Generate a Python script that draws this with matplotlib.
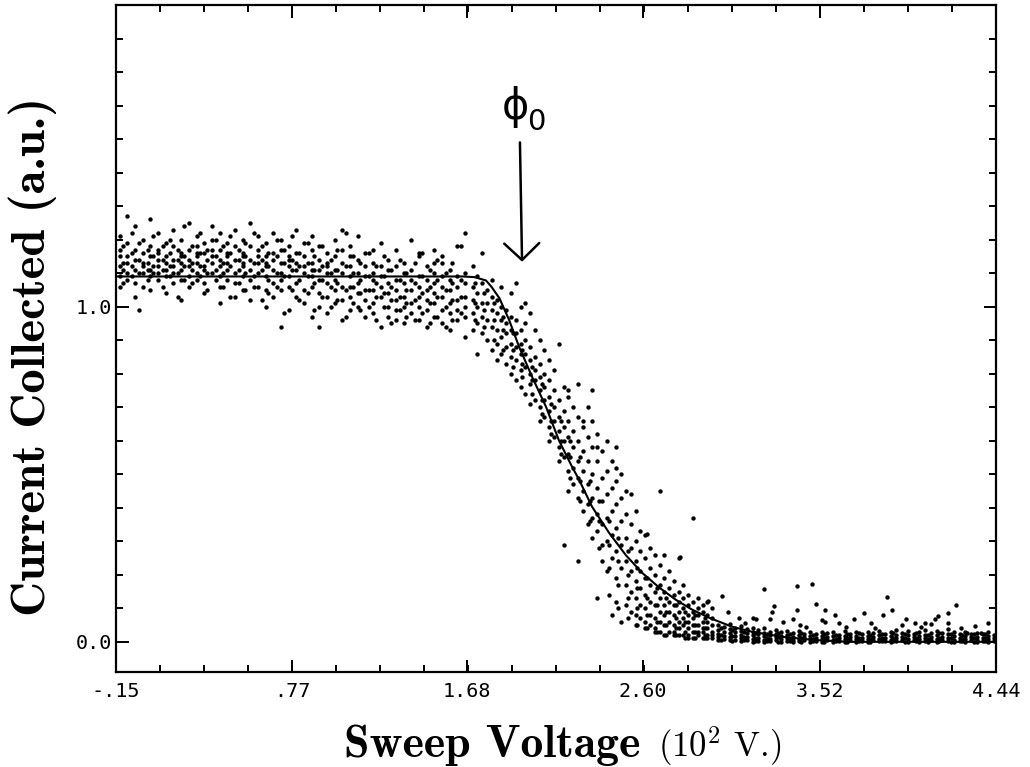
import numpy as np
import matplotlib
matplotlib.use("Agg")
from matplotlib import pyplot as plt

plt.rcParams['mathtext.fontset'] = 'cm'

# Fitted curve
fit_x = [-0.15, 1.66, 1.72, 1.78, 1.81, 1.85, 1.90, 1.952, 2.02, 2.093, 2.161,
         2.229, 2.265, 2.333, 2.422, 2.51, 2.594, 2.683, 2.771, 2.855, 2.943,
         3.063, 3.168, 3.324, 3.50, 3.674, 4.44]
fit_y = [1.09, 1.09, 1.088, 1.078, 1.058, 1.025, 0.961, 0.881, 0.791, 0.701, 0.600,
         0.522, 0.484, 0.403, 0.325, 0.258, 0.206, 0.162, 0.125, 0.096, 0.072,
         0.045, 0.030, 0.015, 0.005, 0.0, 0.0]

# Measured points, grouped by sweep column: plateau
plateau_cols = [-0.13, -0.09, -0.05, -0.01, 0.03, 0.07, 0.11, 0.15, 0.19, 0.23,
                0.27, 0.31, 0.35, 0.39, 0.43, 0.47, 0.51, 0.55, 0.59, 0.63,
                0.67, 0.71, 0.75, 0.79, 0.83, 0.87, 0.91, 0.95, 0.99, 1.03,
                1.07, 1.11, 1.15, 1.19, 1.23, 1.27, 1.31, 1.35, 1.39, 1.43,
                1.47, 1.51, 1.55, 1.59, 1.63, 1.67]
plateau_vals = [
    [1.21, 1.15, 1.12, 1.09, 1.06, 1.17],
    [1.27, 1.19, 1.13, 1.10, 1.08, 1.15],
    [1.24, 1.17, 1.14, 1.11, 1.07, 1.03],
    [1.20, 1.16, 1.12, 1.10, 1.13, 1.06],
    [1.26, 1.18, 1.15, 1.11, 1.09, 1.05],
    [1.22, 1.17, 1.14, 1.12, 1.08, 1.16, 1.10],
    [1.19, 1.15, 1.13, 1.09, 1.04, 1.11],
    [1.23, 1.18, 1.14, 1.12, 1.10, 1.07],
    [1.20, 1.16, 1.13, 1.11, 1.08, 1.15, 1.02],
    [1.25, 1.17, 1.14, 1.12, 1.09, 1.06],
    [1.21, 1.18, 1.15, 1.13, 1.10, 1.08, 1.16],
    [1.19, 1.16, 1.12, 1.11, 1.07, 1.04],
    [1.24, 1.20, 1.15, 1.13, 1.10, 1.17],
    [1.22, 1.17, 1.14, 1.12, 1.09, 1.06, 1.01],
    [1.19, 1.16, 1.13, 1.11, 1.08, 1.15],
    [1.23, 1.18, 1.14, 1.10, 1.07, 1.03],
    [1.20, 1.16, 1.13, 1.12, 1.09, 1.15, 1.05],
    [1.25, 1.18, 1.14, 1.11, 1.08, 1.02],
    [1.21, 1.17, 1.13, 1.10, 1.06, 1.15],
    [1.19, 1.15, 1.12, 1.09, 1.05, 1.00, 1.13],
    [1.22, 1.16, 1.14, 1.11, 1.07, 1.03],
    [1.20, 1.17, 1.13, 1.10, 1.08, 1.05, 0.94],
    [1.18, 1.15, 1.12, 1.09, 1.06, 0.99, 1.14],
    [1.23, 1.16, 1.13, 1.11, 1.07, 1.03],
    [1.19, 1.15, 1.12, 1.10, 1.05, 1.01],
    [1.21, 1.17, 1.13, 1.09, 1.06, 0.97, 1.11],
    [1.18, 1.14, 1.11, 1.08, 1.04, 1.00, 0.94],
    [1.16, 1.13, 1.10, 1.07, 1.03, 0.98, 1.12],
    [1.20, 1.15, 1.11, 1.08, 1.05, 1.01],
    [1.17, 1.13, 1.10, 1.06, 1.02, 0.96, 1.23],
    [1.15, 1.12, 1.09, 1.06, 1.03, 0.99, 1.18],
    [1.21, 1.14, 1.10, 1.07, 1.04, 1.00],
    [1.16, 1.12, 1.09, 1.05, 1.02, 0.97],
    [1.13, 1.10, 1.08, 1.05, 1.01, 0.98, 1.17],
    [1.19, 1.12, 1.09, 1.06, 1.03, 0.94],
    [1.14, 1.11, 1.07, 1.04, 1.00, 0.97],
    [1.17, 1.12, 1.08, 1.05, 1.02, 0.99, 0.96],
    [1.13, 1.10, 1.07, 1.03, 1.00, 0.95],
    [1.20, 1.11, 1.08, 1.05, 1.01, 0.98],
    [1.15, 1.09, 1.06, 1.03, 1.00, 0.96, 1.16],
    [1.12, 1.08, 1.05, 1.02, 0.99, 0.94],
    [1.17, 1.10, 1.07, 1.04, 1.01, 0.97, 1.13],
    [1.13, 1.09, 1.06, 1.03, 0.99, 0.95, 1.15],
    [1.11, 1.08, 1.05, 1.01, 0.98, 0.93],
    [1.18, 1.09, 1.06, 1.02, 0.99, 0.96],
    [1.22, 1.10, 1.07, 1.03, 1.00, 0.97, 0.91],
]

# plateau, in-between sweep columns
plateau2_cols = [-0.115, -0.065, -0.03, 0.015, 0.045, 0.095, 0.13, 0.175, 0.205,
                 0.245, 0.29, 0.325, 0.37, 0.41, 0.445, 0.49, 0.525, 0.57, 0.61,
                 0.645, 0.69, 0.725, 0.77, 0.805, 0.85, 0.885, 0.925, 0.97, 1.005,
                 1.05, 1.085, 1.125, 1.17, 1.205, 1.25, 1.285, 1.33, 1.365, 1.41,
                 1.445, 1.49, 1.525, 1.57, 1.605, 1.65]
plateau2_vals = [
    [1.18, 1.13, 1.11, 1.07], [1.22, 1.16, 1.12, 1.09], [1.19, 1.14, 1.10, 0.99],
    [1.17, 1.13, 1.11, 1.08], [1.21, 1.15, 1.12, 1.10], [1.18, 1.14, 1.11, 1.06],
    [1.20, 1.16, 1.12, 1.09], [1.17, 1.14, 1.10, 1.03], [1.24, 1.15, 1.12, 1.08],
    [1.18, 1.13, 1.11, 1.07], [1.22, 1.16, 1.12, 1.09], [1.17, 1.14, 1.10, 1.05],
    [1.20, 1.15, 1.11, 1.08], [1.18, 1.13, 1.10, 1.06], [1.21, 1.16, 1.12, 1.03],
    [1.17, 1.14, 1.11, 1.07], [1.19, 1.15, 1.10, 1.05], [1.22, 1.13, 1.09, 1.06],
    [1.18, 1.14, 1.11, 1.02], [1.16, 1.12, 1.08, 1.04], [1.20, 1.15, 1.10, 1.06],
    [1.17, 1.13, 1.09, 0.98], [1.21, 1.14, 1.11, 1.05], [1.16, 1.12, 1.08, 1.02],
    [1.19, 1.13, 1.09, 1.04], [1.15, 1.11, 1.07, 0.99], [1.18, 1.12, 1.08, 1.03],
    [1.14, 1.10, 1.06, 1.00], [1.17, 1.11, 1.07, 1.02], [1.22, 1.12, 1.05, 0.97],
    [1.15, 1.10, 1.06, 1.01], [1.13, 1.08, 1.04, 0.99], [1.16, 1.09, 1.05, 1.00],
    [1.12, 1.07, 1.03, 0.96], [1.15, 1.09, 1.04, 1.00], [1.11, 1.06, 1.02, 0.95],
    [1.14, 1.08, 1.03, 0.99], [1.10, 1.05, 1.01, 0.97], [1.13, 1.07, 1.02, 0.96],
    [1.16, 1.09, 1.04, 0.98], [1.11, 1.06, 1.01, 0.95], [1.14, 1.08, 1.03, 0.97],
    [1.10, 1.05, 1.00, 0.94], [1.13, 1.07, 1.02, 0.96], [1.18, 1.08, 1.03, 0.98],
]

# drop region
drop_cols = [1.71, 1.735, 1.76, 1.785, 1.81, 1.835, 1.86, 1.885, 1.91, 1.935,
             1.96, 1.985, 2.01, 2.035, 2.06, 2.085, 2.11, 2.135, 2.16, 2.185,
             2.21, 2.235, 2.26, 2.285, 2.31, 2.335, 2.36, 2.385, 2.41, 2.435,
             2.46, 2.485, 2.51, 2.535, 2.56, 2.585, 2.61, 2.635, 2.66, 2.685,
             2.71, 2.735, 2.76, 2.785, 2.81, 2.835, 2.86, 2.885, 2.91, 2.935, 2.96]
drop_vals = [
    [1.12, 1.06, 1.02, 0.98, 0.93],
    [1.09, 1.04, 1.00, 0.95, 0.86],
    [1.16, 1.07, 1.01, 0.97, 0.92],
    [1.05, 1.01, 0.96, 0.90],
    [1.08, 1.03, 0.99, 0.94, 0.87],
    [1.02, 0.98, 0.93, 0.89, 0.84],
    [1.06, 1.00, 0.96, 0.91, 0.86],
    [0.99, 0.95, 0.92, 0.88, 0.83],
    [1.04, 0.97, 0.93, 0.89, 0.85, 0.80],
    [1.07, 0.96, 0.92, 0.88, 0.84, 0.78],
    [1.00, 0.93, 0.89, 0.86, 0.81, 0.76],
    [1.01, 0.95, 0.90, 0.86, 0.82, 0.74],
    [0.98, 0.88, 0.84, 0.80, 0.77, 0.71],
    [0.93, 0.85, 0.81, 0.78, 0.72],
    [0.90, 0.83, 0.79, 0.75, 0.70, 0.66],
    [0.87, 0.80, 0.76, 0.72, 0.67],
    [0.84, 0.78, 0.73, 0.69, 0.64, 0.60],
    [0.81, 0.75, 0.70, 0.66, 0.61],
    [0.89, 0.72, 0.67, 0.63, 0.58, 0.54],
    [0.76, 0.69, 0.64, 0.60, 0.55, 0.29],
    [0.75, 0.73, 0.66, 0.61, 0.56, 0.51, 0.45],
    [0.70, 0.63, 0.58, 0.52, 0.47],
    [0.77, 0.67, 0.60, 0.54, 0.49, 0.43, 0.24],
    [0.66, 0.64, 0.57, 0.51, 0.45, 0.39],
    [0.70, 0.61, 0.54, 0.47, 0.41, 0.35],
    [0.75, 0.66, 0.58, 0.50, 0.43, 0.37, 0.31],
    [0.62, 0.58, 0.54, 0.46, 0.38, 0.33, 0.13],
    [0.57, 0.49, 0.42, 0.35, 0.29, 0.24],
    [0.60, 0.51, 0.44, 0.37, 0.30, 0.21],
    [0.54, 0.46, 0.39, 0.32, 0.25, 0.08],
    [0.58, 0.52, 0.48, 0.41, 0.34, 0.27, 0.19, 0.12],
    [0.50, 0.43, 0.36, 0.29, 0.22, 0.06],
    [0.45, 0.38, 0.31, 0.24, 0.17, 0.11],
    [0.44, 0.35, 0.28, 0.21, 0.15, 0.09],
    [0.39, 0.30, 0.24, 0.18, 0.13, 0.08, 0.05],
    [0.33, 0.27, 0.21, 0.16, 0.11, 0.07],
    [0.32, 0.25, 0.19, 0.14, 0.10, 0.06, 0.04],
    [0.28, 0.22, 0.17, 0.12, 0.08, 0.05],
    [0.26, 0.20, 0.15, 0.11, 0.07, 0.04, 0.03],
    [0.45, 0.23, 0.17, 0.13, 0.09, 0.06, 0.03],
    [0.26, 0.19, 0.15, 0.11, 0.08, 0.05, 0.02],
    [0.21, 0.16, 0.12, 0.09, 0.06, 0.03],
    [0.18, 0.14, 0.11, 0.08, 0.05, 0.03, 0.02],
    [0.25, 0.15, 0.12, 0.09, 0.06, 0.04, 0.02],
    [0.17, 0.13, 0.10, 0.07, 0.05, 0.02],
    [0.14, 0.11, 0.08, 0.06, 0.04, 0.02, 0.01],
    [0.37, 0.12, 0.09, 0.07, 0.05, 0.03, 0.01],
    [0.13, 0.10, 0.08, 0.05, 0.03, 0.02],
    [0.11, 0.09, 0.06, 0.04, 0.03, 0.01],
    [0.12, 0.08, 0.06, 0.04, 0.02, 0.01],
    [0.10, 0.07, 0.05, 0.03, 0.02, 0.01],
]

# drop region, in-between sweep columns
drop2_cols = [1.72, 1.77, 1.82, 1.87, 1.92, 1.97, 2.02, 2.07, 2.12, 2.17, 2.22,
              2.27, 2.32, 2.37, 2.42, 2.47, 2.52, 2.57, 2.62, 2.67, 2.72, 2.77,
              2.82, 2.87, 2.92]
drop2_vals = [
    [1.07, 1.01, 0.96], [1.04, 0.99, 0.94], [1.01, 0.96, 0.90], [0.97, 0.93, 0.87],
    [0.92, 0.87, 0.82], [0.87, 0.83, 0.79], [0.82, 0.78, 0.74], [0.77, 0.72, 0.68],
    [0.71, 0.66, 0.62], [0.66, 0.60, 0.56], [0.60, 0.55, 0.49], [0.55, 0.48, 0.42],
    [0.48, 0.42, 0.36], [0.42, 0.36, 0.28], [0.36, 0.29, 0.22, 0.14],
    [0.31, 0.24, 0.17, 0.10], [0.27, 0.20, 0.13, 0.07], [0.22, 0.16, 0.10, 0.05],
    [0.19, 0.13, 0.08, 0.04], [0.16, 0.11, 0.06, 0.03], [0.13, 0.09, 0.05, 0.02],
    [0.11, 0.07, 0.04, 0.02], [0.09, 0.06, 0.03, 0.01], [0.08, 0.05, 0.03, 0.01],
    [0.07, 0.04, 0.02, 0.01],
]

# tail (saturated region)
tail_cols = [2.99, 3.02, 3.05, 3.08, 3.11, 3.14, 3.17, 3.20, 3.23, 3.26,
             3.29, 3.32, 3.35, 3.38, 3.41, 3.44, 3.47, 3.50, 3.53, 3.56,
             3.59, 3.62, 3.65, 3.68, 3.71, 3.74, 3.77, 3.80, 3.83, 3.86,
             3.89, 3.92, 3.95, 3.98, 4.01, 4.04, 4.07, 4.10, 4.13, 4.16,
             4.19, 4.22, 4.25, 4.28, 4.31, 4.34, 4.37, 4.40, 4.43]
tail_vals = [
    [0.05, 0.036, 0.024, 0.013, 0.004],
    [0.045, 0.03, 0.018, 0.008],
    [0.052, 0.038, 0.026, 0.015, 0.005],
    [0.04, 0.028, 0.017, 0.006],
    [0.046, 0.033, 0.021, 0.01, 0.002],
    [0.038, 0.025, 0.014, 0.004],
    [0.042, 0.03, 0.019, 0.008, 0.0],
    [0.034, 0.022, 0.012, 0.003],
    [0.04, 0.027, 0.016, 0.006, -0.002],
    [0.03, 0.019, 0.009, 0.001],
    [0.036, 0.024, 0.013, 0.004],
    [0.028, 0.017, 0.008, 0.0],
    [0.033, 0.021, 0.011, 0.003],
    [0.026, 0.015, 0.006, -0.002],
    [0.031, 0.019, 0.009, 0.001],
    [0.024, 0.013, 0.004],
    [0.029, 0.018, 0.008, 0.0],
    [0.022, 0.012, 0.003],
    [0.03, 0.017, 0.007, -0.001],
    [0.025, 0.014, 0.005],
    [0.028, 0.016, 0.006, -0.002],
    [0.021, 0.011, 0.002],
    [0.032, 0.018, 0.008, 0.0],
    [0.024, 0.013, 0.004],
    [0.029, 0.017, 0.007, -0.001],
    [0.022, 0.012, 0.003],
    [0.03, 0.018, 0.008, 0.0],
    [0.025, 0.014, 0.005],
    [0.033, 0.02, 0.009, 0.001],
    [0.023, 0.012, 0.003],
    [0.028, 0.016, 0.006, -0.002],
    [0.034, 0.021, 0.01, 0.002],
    [0.026, 0.015, 0.005],
    [0.031, 0.019, 0.008, 0.0],
    [0.024, 0.013, 0.004],
    [0.029, 0.017, 0.007, -0.001],
    [0.035, 0.021, 0.01, 0.002],
    [0.027, 0.015, 0.005],
    [0.032, 0.019, 0.008, 0.0],
    [0.025, 0.014, 0.004],
    [0.038, 0.022, 0.011, 0.002],
    [0.028, 0.016, 0.006, -0.001],
    [0.023, 0.012, 0.003],
    [0.03, 0.018, 0.007, 0.0],
    [0.024, 0.013, 0.004],
    [0.027, 0.015, 0.006, -0.002],
    [0.022, 0.012, 0.003],
    [0.029, 0.017, 0.007, 0.0],
    [0.02, 0.01, 0.002],
]

# tail, in-between sweep columns
tail2_cols = [3.005, 3.065, 3.125, 3.185, 3.245, 3.305, 3.365, 3.425, 3.485,
              3.545, 3.605, 3.665, 3.725, 3.785, 3.845, 3.905, 3.965, 4.025,
              4.085, 4.145, 4.205, 4.265, 4.325, 4.385]
tail2_vals = [
    [0.042, 0.02, 0.006], [0.036, 0.018, 0.003], [0.03, 0.015, 0.004],
    [0.027, 0.012, 0.001], [0.024, 0.01, 0.002], [0.026, 0.013, 0.0],
    [0.022, 0.009, 0.001], [0.025, 0.011, 0.0], [0.021, 0.008, 0.002],
    [0.024, 0.01, 0.0], [0.02, 0.009, 0.001], [0.023, 0.011, 0.0],
    [0.026, 0.012, 0.002], [0.021, 0.009, 0.0], [0.024, 0.01, 0.001],
    [0.027, 0.012, 0.003], [0.022, 0.01, 0.0], [0.025, 0.011, 0.002],
    [0.021, 0.009, 0.0], [0.026, 0.012, 0.001], [0.023, 0.01, 0.0],
    [0.02, 0.009, 0.001], [0.024, 0.011, 0.0], [0.022, 0.01, 0.002],
]

# scattered outliers above the tail
out_x = [3.01, 2.94, 3.04, 3.17, 3.19, 3.23, 3.26, 3.28, 3.27, 3.38, 3.40, 3.40,
         3.42, 3.48, 3.50, 3.53, 3.55, 3.55, 3.60, 3.62, 3.70, 3.75, 3.79, 3.85,
         3.87, 3.90, 3.95, 3.97, 4.02, 4.07, 4.10, 4.12, 4.14, 4.19, 4.19, 4.23,
         4.29, 4.36, 4.40, 3.10, 3.13, 3.33, 3.45, 3.66, 3.81, 4.05, 4.26, 4.33,
         2.79, 2.62]
out_y = [0.137, 0.122, 0.09, 0.07, 0.069, 0.158, 0.069, 0.107, 0.09, 0.069, 0.167, 0.096,
         0.05, 0.173, 0.113, 0.066, 0.096, 0.06, 0.081, 0.057, 0.069, 0.087, 0.057, 0.081,
         0.134, 0.096, 0.05, 0.069, 0.057, 0.057, 0.054, 0.069, 0.078, 0.087, 0.057, 0.110,
         0.027, 0.027, 0.057, 0.07, 0.055, 0.06, 0.045, 0.045, 0.04, 0.045, 0.042, 0.048,
         0.254, 0.322]

x_ticks = [-0.15, 0.77, 1.68, 2.60, 3.52, 4.44]
x_ticklabels = ['-.15', '.77', '1.68', '2.60', '3.52', '4.44']


def flatten(cols, vals):
    xs, ys = [], []
    for c, v in zip(cols, vals):
        xs += [c] * len(v)
        ys += v
    return xs, ys


fig = plt.figure(figsize=(10.30, 7.67), dpi=100)
ax = fig.add_axes([0.1126, 0.1239, 0.8544, 0.8696])

groups = [(plateau_cols, plateau_vals), (plateau2_cols, plateau2_vals),
          (drop_cols, drop_vals), (drop2_cols, drop2_vals),
          (tail_cols, tail_vals), (tail2_cols, tail2_vals)]
for cols, vals in groups:
    xs, ys = flatten(cols, vals)
    ax.scatter(xs, ys, s=10, color='black', linewidths=0)
ax.scatter(out_x, out_y, s=10, color='black', linewidths=0)

ax.plot(fit_x, fit_y, color='black', lw=1.5)

ax.set_xlim(-0.15, 4.44)
ax.set_ylim(-0.09, 1.90)

ax.set_xticks(x_ticks)
ax.set_xticklabels(x_ticklabels)
ax.set_xticks(np.linspace(-0.15, 4.44, 21), minor=True)
ax.set_yticks([0.0, 1.0])
ax.set_yticklabels(['0.0', '1.0'])
ax.set_yticks([v / 10 for v in range(1, 19) if v != 10], minor=True)

for sp in ax.spines.values():
    sp.set_linewidth(1.6)
ax.tick_params(which='both', direction='in', top=True, right=True, width=1.4)
ax.tick_params(which='major', length=9)
ax.tick_params(which='minor', length=5)
ax.tick_params(axis='x', pad=7)
ax.tick_params(axis='y', pad=3)
for lab in ax.get_xticklabels() + ax.get_yticklabels():
    lab.set_family('DejaVu Sans Mono')
    lab.set_fontsize(14.5)

# phi_0 marker with arrow
ax.annotate('', xy=(1.968, 1.134), xytext=(1.957, 1.49),
            arrowprops=dict(arrowstyle='->,head_length=0.4,head_width=0.42',
                            lw=1.8, color='black', mutation_scale=30,
                            shrinkA=0, shrinkB=0))
ax.text(1.931, 1.597, '\u03d5', ha='center', va='center', fontsize=30,
        family='DejaVu Sans')
ax.text(2.041, 1.552, '0', ha='center', va='center', fontsize=21,
        family='DejaVu Sans')

# axis titles
fig.text(640 / 1030, 1 - 757 / 767, 'Sweep Voltage', family='cmb10',
         fontsize=33, ha='right', va='baseline')
fig.text(658 / 1030, 1 - 757 / 767, '(10$^{2}$ V.)', family='cmr10',
         fontsize=25, ha='left', va='baseline')
fig.text(33 / 1030, 1 - 357 / 767, 'Current Collected (a.u.)',
         family='cmb10', fontsize=35, ha='center', va='center', rotation=90)

fig.savefig('out.png', dpi=100)
